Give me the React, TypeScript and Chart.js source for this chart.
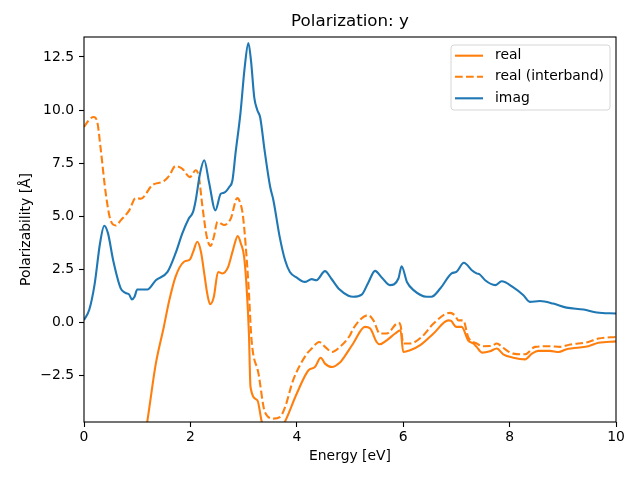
import React, { useEffect, useRef } from "react";
import { Chart, registerables } from "chart.js";

Chart.register(...registerables);

const TITLE = "Polarization: y";
const X_LABEL = "Energy [eV]";
const Y_LABEL = "Polarizability [Å]";
const SERIES_NAMES = ["real", "real (interband)", "imag"];
const Y_TICKS = [-2.5, 0, 2.5, 5, 7.5, 10, 12.5];

const imagX = [0.0, 0.1, 0.2, 0.3, 0.38, 0.45, 0.55, 0.69, 0.78, 0.85, 0.9, 0.95, 1.0, 1.19, 1.35, 1.57, 1.72, 1.85, 1.97, 2.05, 2.1, 2.18, 2.26, 2.35, 2.47, 2.57, 2.63, 2.73, 2.79, 2.85, 2.94, 3.02, 3.09, 3.14, 3.2, 3.26, 3.31, 3.4, 3.5, 3.56, 3.68, 3.78, 3.87, 4.0, 4.15, 4.28, 4.37, 4.53, 4.65, 4.8, 4.97, 5.06, 5.22, 5.35, 5.47, 5.6, 5.75, 5.91, 5.97, 6.07, 6.2, 6.44, 6.53, 6.7, 6.91, 7.0, 7.14, 7.29, 7.38, 7.44, 7.54, 7.73, 7.85, 8.07, 8.26, 8.38, 8.57, 8.82, 9.07, 9.39, 9.64, 10.0];
const imagY = [0.1, 0.6, 1.8, 3.7, 4.55, 4.2, 2.9, 1.6, 1.38, 1.3, 1.08, 1.2, 1.54, 1.54, 1.98, 2.37, 3.24, 4.2, 4.89, 5.2, 5.75, 7.0, 7.63, 6.6, 5.27, 6.05, 6.1, 6.37, 6.68, 8.0, 9.83, 12.0, 13.16, 12.3, 10.6, 9.98, 9.67, 8.0, 6.37, 5.75, 4.0, 2.92, 2.37, 2.1, 1.9, 2.03, 1.98, 2.41, 2.05, 1.55, 1.25, 1.2, 1.3, 1.9, 2.42, 2.1, 1.75, 2.06, 2.64, 1.9, 1.5, 1.2, 1.2, 1.6, 2.3, 2.37, 2.8, 2.45, 2.3, 2.25, 1.98, 1.75, 1.93, 1.64, 1.27, 0.96, 1.0, 0.88, 0.69, 0.6, 0.46, 0.41];

const realX = [0.0, 0.5, 0.9, 1.19, 1.35, 1.5, 1.6, 1.72, 1.88, 1.99, 2.05, 2.13, 2.2, 2.26, 2.32, 2.37, 2.44, 2.52, 2.6, 2.71, 2.8, 2.89, 2.95, 3.01, 3.06, 3.1, 3.13, 3.26, 3.34, 3.45, 3.6, 3.78, 4.0, 4.22, 4.34, 4.45, 4.53, 4.66, 4.81, 4.87, 5.06, 5.28, 5.38, 5.5, 5.56, 5.69, 5.85, 5.95, 6.0, 6.13, 6.32, 6.57, 6.85, 6.9, 7.0, 7.1, 7.22, 7.32, 7.38, 7.48, 7.63, 7.76, 7.88, 8.07, 8.29, 8.42, 8.54, 8.76, 8.92, 9.07, 9.48, 9.67, 10.0];
const realY = [-30, -18, -9, -4.67, -1.95, -0.22, 1.0, 2.14, 2.85, 2.96, 3.3, 3.79, 3.3, 2.3, 1.3, 0.85, 1.19, 2.37, 2.3, 2.61, 3.4, 4.06, 3.7, 3.08, 1.5, -0.53, -3.05, -3.68, -4.67, -5.3, -5.4, -4.67, -3.36, -2.26, -2.11, -1.67, -1.95, -2.11, -1.9, -1.71, -1.0, -0.22, -0.3, -0.93, -1.04, -0.85, -0.53, -0.38, -1.4, -1.32, -1.08, -0.53, 0.09, 0.06, -0.22, -0.22, -0.85, -1.0, -1.16, -1.43, -1.37, -1.24, -1.51, -1.67, -1.75, -1.48, -1.35, -1.35, -1.4, -1.27, -1.13, -0.97, -0.9];

const interX = [0.0, 0.1, 0.18, 0.25, 0.31, 0.41, 0.5, 0.6, 0.69, 0.85, 0.97, 1.07, 1.28, 1.5, 1.6, 1.72, 1.85, 1.99, 2.1, 2.16, 2.22, 2.31, 2.38, 2.44, 2.51, 2.63, 2.76, 2.88, 2.94, 2.99, 3.09, 3.15, 3.28, 3.4, 3.56, 3.68, 3.78, 3.93, 4.19, 4.28, 4.42, 4.53, 4.66, 4.81, 5.0, 5.06, 5.34, 5.44, 5.56, 5.69, 5.91, 5.95, 6.0, 6.13, 6.35, 6.57, 6.88, 6.97, 7.04, 7.13, 7.22, 7.38, 7.5, 7.66, 7.76, 7.88, 8.07, 8.29, 8.48, 8.76, 8.95, 9.14, 9.48, 9.67, 10.0];
const interY = [9.2, 9.55, 9.67, 9.43, 8.25, 6.05, 4.8, 4.56, 4.8, 5.27, 5.85, 5.82, 6.45, 6.65, 6.9, 7.36, 7.23, 6.84, 7.16, 6.84, 5.58, 4.0, 3.6, 4.02, 4.73, 4.58, 4.89, 5.85, 5.6, 4.97, 1.82, -0.85, -2.42, -4.23, -4.54, -4.47, -4.0, -2.74, -1.48, -1.24, -0.93, -1.16, -1.4, -1.16, -0.61, -0.3, 0.33, 0.09, -0.53, -0.53, -0.03, -0.14, -1.0, -1.0, -0.69, -0.06, 0.44, 0.33, 0.09, 0.09, -0.69, -1.0, -1.13, -1.12, -1.0, -1.21, -1.48, -1.51, -1.16, -1.13, -1.16, -1.05, -0.93, -0.77, -0.69];

const ORANGE = "#ff7f0e";
const BLUE = "#1f77b4";
const FONT = "DejaVu Sans";
const DASH = [7.7, 3.3];

const pts = (xs: number[], ys: number[]) => xs.map((x, i) => ({ x, y: ys[i] }));

const framePlugin = {
  id: "frameAndLegend",
  afterDraw(chart: any) {
    const { ctx, chartArea } = chart;
    ctx.save();
    // axes frame
    ctx.strokeStyle = "#000";
    ctx.lineWidth = 1.1;
    ctx.strokeRect(chartArea.left, chartArea.top, chartArea.right - chartArea.left, chartArea.bottom - chartArea.top);
    // title
    ctx.fillStyle = "#000";
    ctx.font = `16.7px "${FONT}"`;
    ctx.textAlign = "center";
    ctx.textBaseline = "middle";
    ctx.fillText(TITLE, (chartArea.left + chartArea.right) / 2, 22);
    // legend
    const lx = 451, ly = 45, lw = 159, lh = 65;
    ctx.beginPath();
    ctx.roundRect(lx, ly, lw, lh, 3);
    ctx.fillStyle = "rgba(255,255,255,0.8)";
    ctx.fill();
    ctx.strokeStyle = "#d6d6d6";
    ctx.lineWidth = 1;
    ctx.stroke();
    const rows = [55.7, 76.7, 98.3];
    const colors = [ORANGE, ORANGE, BLUE];
    const dashes = [[], DASH, []];
    ctx.font = `13.9px "${FONT}"`;
    ctx.textAlign = "left";
    for (let i = 0; i < 3; i++) {
      ctx.beginPath();
      ctx.setLineDash(dashes[i]);
      ctx.strokeStyle = colors[i];
      ctx.lineWidth = 2.1;
      ctx.moveTo(455, rows[i]);
      ctx.lineTo(483, rows[i]);
      ctx.stroke();
      ctx.setLineDash([]);
      ctx.fillStyle = "#000";
      ctx.fillText(SERIES_NAMES[i], 495, rows[i]);
    }
    ctx.restore();
  },
};

export default function App() {
  const ref = useRef<HTMLCanvasElement | null>(null);
  useEffect(() => {
    if (!ref.current) return;
    const tickFont = { family: FONT, size: 13.9 };
    const chart = new Chart(ref.current, {
      type: "line",
      data: {
        datasets: [
          {
            label: SERIES_NAMES[0],
            data: pts(realX, realY),
            borderColor: ORANGE,
            borderWidth: 2.1,
            pointRadius: 0,
            cubicInterpolationMode: "monotone",
            order: 3,
          },
          {
            label: SERIES_NAMES[1],
            data: pts(interX, interY),
            borderColor: ORANGE,
            borderWidth: 2.1,
            borderDash: DASH,
            pointRadius: 0,
            cubicInterpolationMode: "monotone",
            order: 2,
          },
          {
            label: SERIES_NAMES[2],
            data: pts(imagX, imagY),
            borderColor: BLUE,
            borderWidth: 2.1,
            pointRadius: 0,
            cubicInterpolationMode: "monotone",
            order: 1,
          },
        ],
      },
      options: {
        animation: false,
        responsive: false,
        devicePixelRatio: 1,
        layout: { padding: { top: 37, right: 24, left: 0, bottom: 0 } },
        plugins: { legend: { display: false }, title: { display: false }, tooltip: { enabled: false } },
        scales: {
          x: {
            type: "linear",
            min: 0,
            max: 10,
            afterFit: (s: any) => { s.height = 58; },
            ticks: { stepSize: 2, font: tickFont, color: "#000", padding: 2, maxRotation: 0 },
            grid: { drawOnChartArea: false, drawTicks: true, tickLength: 5, tickColor: "#000", tickWidth: 1.1 },
            border: { display: false },
            title: { display: true, text: X_LABEL, font: tickFont, color: "#000", padding: { top: 0, bottom: 15 } },
          },
          y: {
            type: "linear",
            min: -4.7,
            max: 13.44,
            afterFit: (s: any) => { s.width = 84; },
            afterBuildTicks: (s: any) => { s.ticks = Y_TICKS.map((v) => ({ value: v })); },
            ticks: {
              font: tickFont,
              color: "#000",
              padding: 5,
              callback: (v: any) => Number(v).toFixed(1).replace("-", "\u2212"),
            },
            grid: { drawOnChartArea: false, drawTicks: true, tickLength: 5, tickColor: "#000", tickWidth: 1.1 },
            border: { display: false },
            title: { display: true, text: Y_LABEL, font: tickFont, color: "#000", padding: { top: 18, bottom: 0 } },
          },
        },
      },
      plugins: [framePlugin],
    } as any);
    return () => chart.destroy();
  }, []);
  return (
    <div style={{ position: "absolute", left: 0, top: 0, width: 640, height: 480 }}>
      <canvas ref={ref} width={640} height={480} />
    </div>
  );
}
